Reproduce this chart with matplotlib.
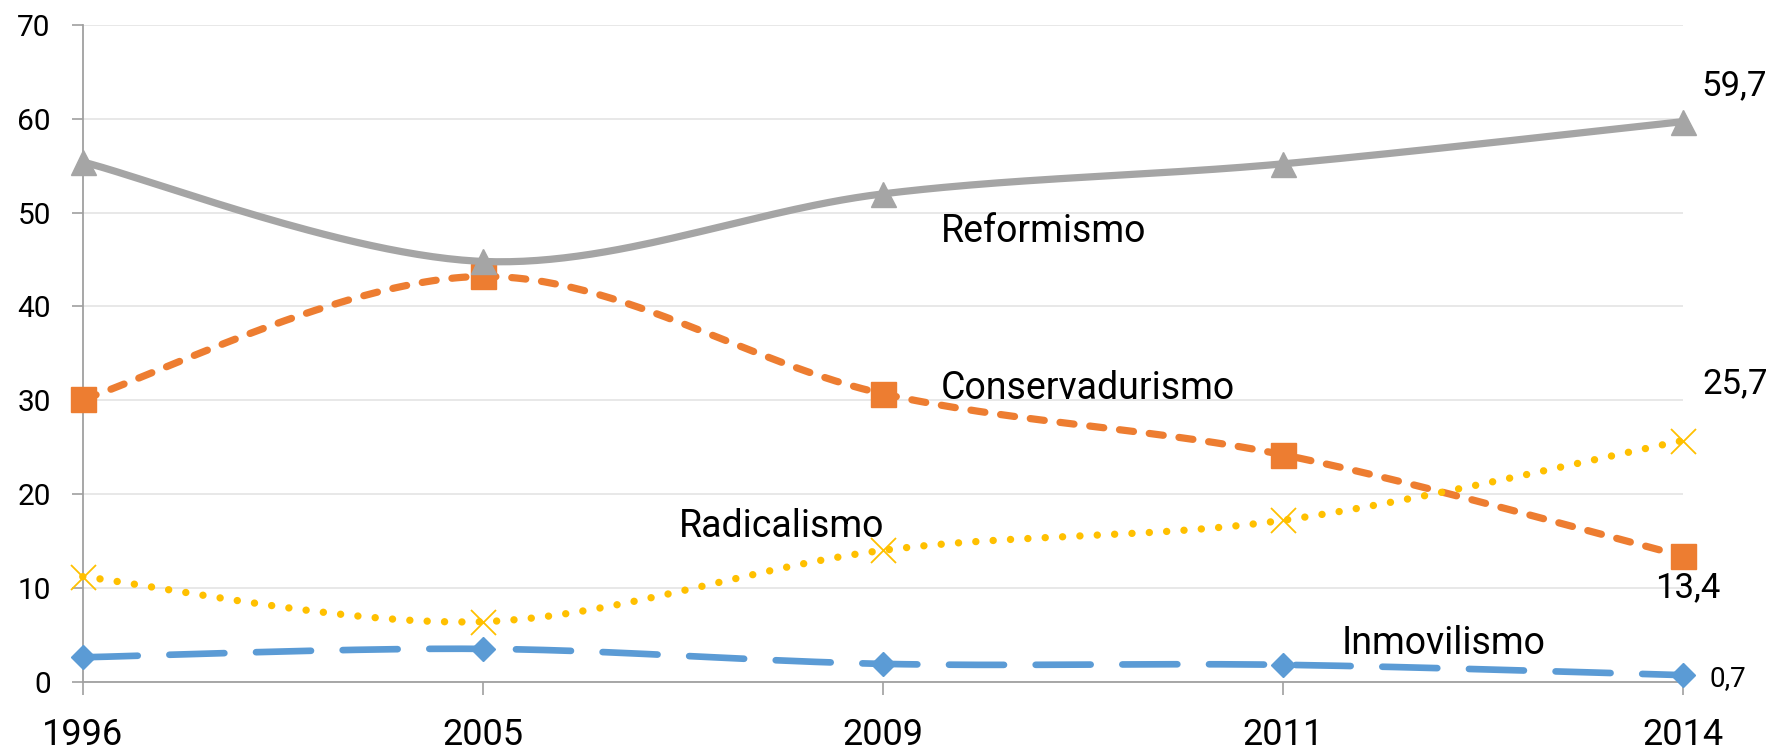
import numpy as np
import matplotlib
matplotlib.use("Agg")
import matplotlib.pyplot as plt

years = ["1996", "2005", "2009", "2011", "2014"]
inmovilismo = [2.6, 3.5, 1.9, 1.8, 0.7]
conservadurismo = [30.1, 43.2, 30.7, 24.2, 13.4]
radicalismo = [11.2, 6.4, 14.0, 17.2, 25.7]
reformismo = [55.4, 44.8, 52.0, 55.2, 59.7]

plt.rcParams['font.family'] = ['Roboto', 'DejaVu Sans']

fig = plt.figure(figsize=(17.72, 7.54), dpi=100)
ax = fig.add_axes([0.0467, 0.0959, 0.9029, 0.8709])


def smooth(xs, ys, n=60):
    # Excel-style smoothed line (Bezier through the points)
    xs = np.asarray(xs, float)
    ys = np.asarray(ys, float)
    P = np.column_stack([xs, ys])
    out = []
    for i in range(len(P) - 1):
        p0 = P[i - 1] if i > 0 else P[i]
        p1 = P[i]
        p2 = P[i + 1]
        p3 = P[i + 2] if i + 2 < len(P) else P[i + 1]
        c1 = p1 + (p2 - p0) / 6.0
        c2 = p2 - (p3 - p1) / 6.0
        t = np.linspace(0, 1, n)[:, None]
        seg = ((1 - t) ** 3) * p1 + 3 * ((1 - t) ** 2) * t * c1 + 3 * (1 - t) * t ** 2 * c2 + t ** 3 * p2
        if i > 0:
            seg = seg[1:]
        out.append(seg)
    out = np.vstack(out)
    return out[:, 0], out[:, 1]


x = np.arange(len(years))

# Inmovilismo
sx, sy = smooth(x, inmovilismo)
ax.plot(sx, sy, color="#5B9BD5", lw=4.8, dashes=(8.25, 4.75), dash_capstyle='round', zorder=3, clip_on=False)
ax.plot(x, inmovilismo, ls='none', marker='D', ms=12, color="#5B9BD5", mec="#5B9BD5", zorder=3.1, clip_on=False)

# Conservadurismo
sx, sy = smooth(x, conservadurismo)
ax.plot(sx, sy, color="#ED7D31", lw=5.2, dashes=(1.95, 2.2), dash_capstyle='round', zorder=4, clip_on=False)
ax.plot(x, conservadurismo, ls='none', marker='s', ms=18, color="#ED7D31", mec="#ED7D31", zorder=4.1, clip_on=False)

# Radicalismo
sx, sy = smooth(x, radicalismo)
ax.plot(sx, sy, color="#FFC000", lw=5.3, dashes=(0.01, 2.35), dash_capstyle='round', zorder=5, clip_on=False)
ax.plot(x, radicalismo, ls='none', marker='x', ms=18, mew=1.3, color="#FFC000", zorder=5.1, clip_on=False)

# Reformismo
sx, sy = smooth(x, reformismo)
ax.plot(sx, sy, color="#A5A5A5", lw=5.2, solid_capstyle='round', zorder=6, clip_on=False)
ax.plot(x, reformismo, ls='none', marker='^', ms=18, color="#A5A5A5", mec="#A5A5A5", zorder=6.1, clip_on=False)

ax.set_xlim(0, 4)
ax.set_ylim(0, 70)
ax.set_yticks(range(0, 71, 10))
ax.set_xticks(x)
ax.set_xticklabels(years)
ax.tick_params(axis='x', labelsize=26, length=9.5, width=1.2, color='#A0A0A0', pad=16, direction='out')
ax.tick_params(axis='y', labelsize=21.5, length=8, width=1.2, color='#A0A0A0', pad=15, direction='out')
ax.grid(axis='y', color='#E6E6E6', lw=1.3, zorder=0)
ax.set_axisbelow(True)
for s in ['top', 'right']:
    ax.spines[s].set_visible(False)
for s in ['left', 'bottom']:
    ax.spines[s].set_color('#A0A0A0')
    ax.spines[s].set_linewidth(1.3)

ax.text(2.146, 46.9, "Reformismo", fontsize=27, ha='left', va='baseline')
ax.text(2.146, 30.1, "Conservadurismo", fontsize=27, ha='left', va='baseline')
ax.text(1.491, 15.45, "Radicalismo", fontsize=27, ha='left', va='baseline')
ax.text(3.147, 2.94, "Inmovilismo", fontsize=27, ha='left', va='baseline')

ax.text(4.048, 62.5, "59,7", fontsize=25, ha='left', va='baseline', clip_on=False)
ax.text(4.048, 30.75, "25,7", fontsize=25, ha='left', va='baseline', clip_on=False)
ax.text(3.931, 9.06, "13,4", fontsize=25, ha='left', va='baseline', clip_on=False)
ax.text(4.068, -0.43, "0,7", fontsize=20, ha='left', va='baseline', clip_on=False)

fig.savefig("out.png", dpi=100)
